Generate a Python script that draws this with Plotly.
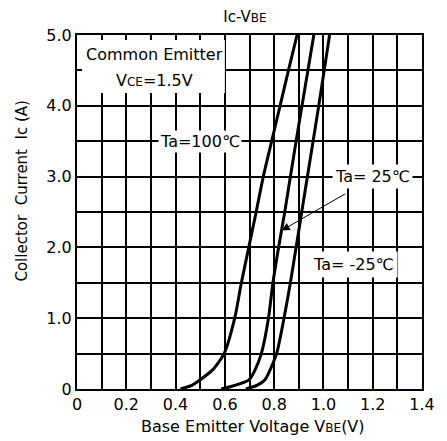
import plotly.graph_objects as go

# ---- data ----
vbe_100 = [0.42, 0.466, 0.50, 0.55, 0.597, 0.64, 0.667, 0.697, 0.727, 0.756, 0.790, 0.824, 0.858, 0.893]
ic_100 = [0.0, 0.05, 0.13, 0.27, 0.5, 1.0, 1.5, 2.0, 2.5, 3.0, 3.5, 4.0, 4.5, 5.0]

vbe_25 = [0.585, 0.64, 0.698, 0.72, 0.748, 0.777, 0.795, 0.818, 0.843, 0.866, 0.889, 0.913, 0.937, 0.961]
ic_25 = [0.0, 0.05, 0.13, 0.25, 0.5, 1.0, 1.5, 2.0, 2.5, 3.0, 3.5, 4.0, 4.5, 5.0]

vbe_m25 = [0.685, 0.73, 0.763, 0.81, 0.84, 0.866, 0.889, 0.912, 0.935, 0.958, 0.981, 1.003, 1.025]
ic_m25 = [0.0, 0.05, 0.13, 0.5, 1.0, 1.5, 2.0, 2.5, 3.0, 3.5, 4.0, 4.5, 5.0]

x_grid = [round(0.1 * i, 1) for i in range(15)]
x_labels = ["0", "", "0.2", "", "0.4", "", "0.6", "", "0.8", "", "1.0", "", "1.2", "", "1.4"]
y_grid = [0.5 * i for i in range(11)]
y_labels = ["0", "", "1.0", "", "2.0", "", "3.0", "", "4.0", "", "5.0"]

FONT = "DejaVu Sans, Arial, sans-serif"

fig = go.Figure()
for xs, ys in [(vbe_100, ic_100), (vbe_25, ic_25), (vbe_m25, ic_m25)]:
    fig.add_trace(go.Scatter(x=xs, y=ys, mode="lines",
                             line=dict(color="black", width=3, shape="spline", smoothing=0.6),
                             showlegend=False, hoverinfo="skip"))

# white box behind the "Common Emitter" note (hides grid, under traces)
fig.add_shape(type="rect", xref="x", yref="y", x0=0.02, x1=0.6, y0=4.18, y1=4.93,
              fillcolor="white", line=dict(width=0), layer="between")

ann = [
    dict(x=0.315, y=4.72, text="Common Emitter"),
    dict(x=0.315, y=4.36, text="V<span style='font-size:12px'>CE</span>=1.5V"),
    dict(x=0.5, y=3.5, text="Ta=100℃", bgcolor="white", borderpad=1),
    dict(x=1.2, y=3.0, text="Ta= 25℃", bgcolor="white", borderpad=2),
    dict(x=1.12, y=1.76, text="Ta= -25℃", bgcolor="white", borderpad=3),
]
for a in ann:
    fig.add_annotation(xref="x", yref="y", showarrow=False,
                       font=dict(family=FONT, size=16, color="black"), **a)

# arrow pointing at the 25 degC curve
fig.add_annotation(xref="x", yref="y", axref="x", ayref="y",
                   x=0.831, y=2.24, ax=1.095, ay=2.77, text="",
                   showarrow=True, arrowhead=2, arrowsize=1.6, arrowwidth=1, arrowcolor="black")

# axis titles
fig.add_annotation(xref="paper", yref="paper", x=0.51, y=-0.105, yanchor="middle",
                   showarrow=False, font=dict(family=FONT, size=16, color="black"),
                   text="Base Emitter Voltage V<span style='font-size:12px'>BE</span>(V)")
fig.add_annotation(xref="paper", yref="paper", x=-0.16, y=0.56, textangle=-90,
                   xanchor="center", yanchor="middle", showarrow=False,
                   font=dict(family=FONT, size=15, color="black"),
                   text="Collector  Current  Ic (A)")

fig.update_layout(
    width=447, height=441,
    margin=dict(l=77, r=14, t=35, b=52),
    paper_bgcolor="white", plot_bgcolor="white",
    title=dict(text="Ic-V<span style='font-size:12px'>BE</span>", x=245 / 447, xref="container",
               xanchor="center", y=1 - 17 / 441, yref="container", yanchor="middle",
               font=dict(family=FONT, size=15, color="black")),
    xaxis=dict(range=[0, 1.4], tickvals=x_grid, ticktext=x_labels,
               showgrid=True, gridcolor="black", gridwidth=1.5,
               showline=True, linecolor="black", linewidth=2, mirror=True,
               ticks="", zeroline=False,
               tickfont=dict(family=FONT, size=16, color="black")),
    yaxis=dict(range=[0, 5], tickvals=y_grid, ticktext=y_labels,
               showgrid=True, gridcolor="black", gridwidth=1.5,
               showline=True, linecolor="black", linewidth=2, mirror=True,
               ticks="", zeroline=False,
               tickfont=dict(family=FONT, size=16, color="black")),
)

fig.write_html("out.html", config={"displayModeBar": False},
               post_script="document.body.style.margin='0';document.body.style.padding='0';")
